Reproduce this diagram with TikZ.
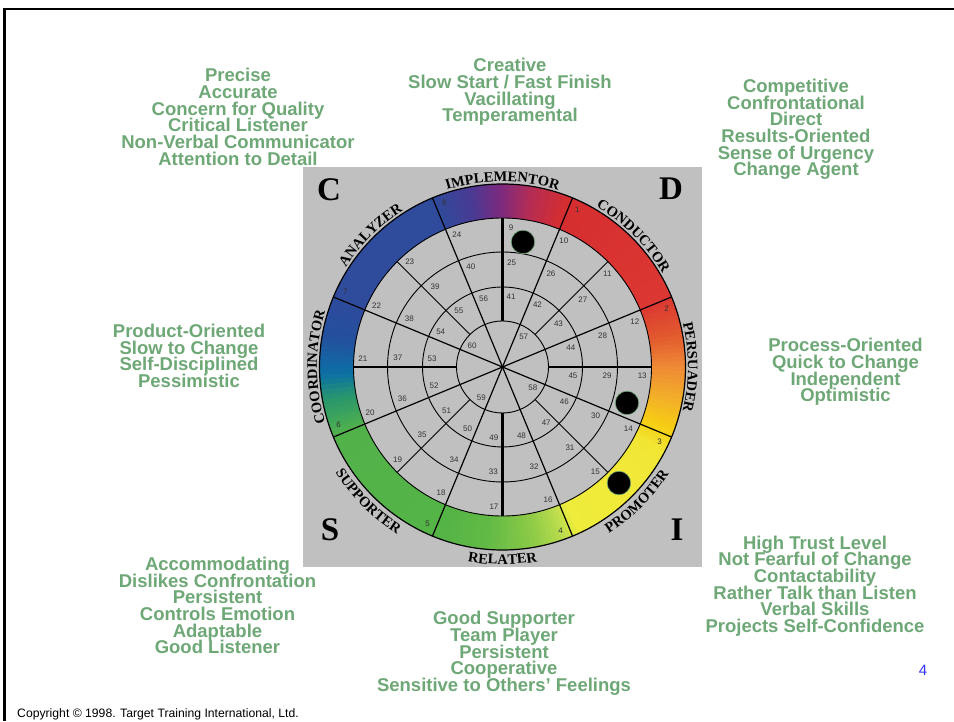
\documentclass[tikz,border=0pt]{standalone}
\usepackage{fontspec}
\setmainfont{Liberation Sans}
\newfontfamily\rolefamily{Liberation Serif}
\usetikzlibrary{decorations.text}

\definecolor{traitgreen}{RGB}{111,168,119}
\definecolor{panelgrey}{RGB}{192,192,192}
\definecolor{pagenum}{RGB}{51,51,255}
% colour stops of the wheel rim
\definecolor{ringA}{RGB}{46,75,156}
\definecolor{ringB}{RGB}{74,58,147}
\definecolor{ringC}{RGB}{125,42,126}
\definecolor{ringD}{RGB}{181,44,84}
\definecolor{ringE}{RGB}{214,46,48}
\definecolor{ringF}{RGB}{220,55,50}
\definecolor{ringG}{RGB}{226,90,46}
\definecolor{ringH}{RGB}{238,136,54}
\definecolor{ringI}{RGB}{243,178,40}
\definecolor{ringJ}{RGB}{246,207,18}
\definecolor{ringK}{RGB}{242,230,53}
\definecolor{ringL}{RGB}{239,236,59}
\definecolor{ringM}{RGB}{190,222,78}
\definecolor{ringN}{RGB}{142,203,71}
\definecolor{ringO}{RGB}{98,186,69}
\definecolor{ringP}{RGB}{85,180,70}
\definecolor{ringQ}{RGB}{82,178,74}
\definecolor{ringR}{RGB}{40,150,110}
\definecolor{ringS}{RGB}{12,112,165}
\definecolor{ringT}{RGB}{35,80,158}

\newcommand\rolefont{\rolefamily\bfseries\fontsize{14.5}{14.5}\selectfont}
% tight, even line spacing for the trait lists
\newcommand\traitfont{\bfseries\fontsize{18.5}{16.7}\selectfont\lineskiplimit=-20pt\relax}

\tikzset{
  trait/.style={align=center, text=traitgreen, inner sep=0pt, font=\traitfont},
  num/.style={inner sep=0pt, text=black!80, font=\fontsize{8}{8}\selectfont},
  corner/.style={inner sep=0pt, font=\rolefamily\bfseries\fontsize{33}{33}\selectfont},
  marker/.style={circle, fill=black, draw=traitgreen, line width=0.6pt,
    minimum size=23.5pt, inner sep=0pt},
  spoke/.style={line width=1.2pt},
  axis/.style={line width=2.2pt},
  ring/.style={line width=0.9pt},
}

\begin{document}
\begin{tikzpicture}[x=1pt,y=1pt]
\useasboundingbox (0,0) rectangle (954,721);
\fill[white] (0,0) rectangle (954,721);

% slide frame
\draw[line width=2.5pt] (4.5,0) -- (4.5,712) -- (954,712);

% grey panel behind the wheel
\fill[panelgrey] (303,154) rectangle (702,554);
\coordinate (c) at (502.5,354);

\begin{scope}[shift={(c)}]
  % coloured rim, filled in thin wedges
  \foreach \a/\b/\ca/\cb in {157.5/112.5/ringA/ringA, 112.5/100/ringA/ringB,
      100/90/ringB/ringC, 90/80/ringC/ringD, 80/68/ringD/ringE, 68/22.5/ringE/ringF,
      22.5/10/ringF/ringG, 10/0/ringG/ringH, 0/-12/ringH/ringI, -12/-21/ringI/ringJ,
      -21/-28/ringJ/ringK, -28/-66/ringK/ringL, -66/-70/ringL/ringM, -70/-80/ringM/ringN,
      -80/-95/ringN/ringO, -95/-110/ringO/ringP, -110/-157.5/ringP/ringQ,
      -157.5/-170/ringQ/ringR, -170/-178/ringR/ringS, -178/-190/ringS/ringT,
      -190/-202.5/ringT/ringA}{
    \pgfmathtruncatemacro\n{max(1,round((\a-\b)/1.5))}
    \foreach \i in {1,...,\n}{
      \pgfmathsetmacro\s{\a-(\i-1)*(\a-\b)/\n+0.4}
      \pgfmathsetmacro\e{\a-\i*(\a-\b)/\n}
      \pgfmathsetmacro\p{100*(\i-0.5)/\n}
      \fill[\cb!\p!\ca] (\s:183) arc[start angle=\s, end angle=\e, radius=183]
        -- (\e:149) arc[start angle=\e, end angle=\s, radius=149] -- cycle;
    }
  }

  % rings and spokes
  \foreach \r in {46,80,115,149}
    \draw[ring] (0,0) circle[radius=\r];
  \draw[spoke] (0,0) circle[radius=183];
  \foreach \t in {22.5,67.5,...,337.5}
    \draw[spoke] (0,0) -- (\t:183);
  \foreach \t in {0,90,180,270}
    \draw[axis] (\t:46) -- (\t:149);
  \foreach \t in {45,135,225,315}
    \draw[ring] (\t:46) -- (\t:149);

  % cell numbers
  \foreach \k in {1,...,8}
    \node[num] (n\k) at ({67.5-45*(\k-1)-3}:174) {\k};
  \foreach \k in {9,...,24}
    \node[num] (n\k) at ({90-22.5*(\k-9)-3.5}:140) {\k};
  \foreach \k in {25,...,40}
    \node[num] (n\k) at ({90-22.5*(\k-25)-5}:105) {\k};
  \foreach \k in {41,...,56}
    \node[num] (n\k) at ({90-22.5*(\k-41)-7}:71) {\k};
  \foreach \k in {57,...,60}
    \node[num] (n\k) at ({55-90*(\k-57)}:37) {\k};

  % role names round the rim
  \foreach \ang/\role in {90/IMPLEMENTOR, 45/CONDUCTOR, 0/PERSUADER,
      135/ANALYZER, 180/COORDINATOR}
    \path[decorate, decoration={text along path, text align=center,
        text/.expanded={|\noexpand\rolefont|\role}}]
      (\ang+40:185.5) arc[start angle=\ang+40, end angle=\ang-40, radius=185.5];
  \foreach \ang/\role in {-45/PROMOTER, -90/RELATER, -135/SUPPORTER}
    \path[decorate, decoration={text along path, text align=center,
        text/.expanded={|\noexpand\rolefont|\role}}]
      (\ang-40:197.5) arc[start angle=\ang-40, end angle=\ang+40, radius=197.5];

  % plotted positions
  \node[marker] (dot1) at (80.7:126.7) {};
  \node[marker] (dot2) at (-16.1:129.6) {};
  \node[marker] (dot3) at (-44.9:164.4) {};
\end{scope}

% quadrant letters
\node[corner] (qC) at (329,531) {C};
\node[corner] (qD) at (671,532) {D};
\node[corner] (qS) at (330,191) {S};
\node[corner] (qI) at (677,191) {I};

% trait lists
\node[trait] (tC) at (238,604) {Precise\\Accurate\\Concern for Quality\\Critical Listener\\Non-Verbal Communicator\\Attention to Detail};
\node[trait] (tCD) at (510,629) {Creative\\Slow Start / Fast Finish\\Vacillating\\Temperamental};
\node[trait] (tD) at (796,591.5) {Competitive\\Confrontational\\Direct\\Results-Oriented\\Sense of Urgency\\Change Agent};
\node[trait] (tCS) at (189,365) {Product-Oriented\\Slow to Change\\Self-Disciplined\\Pessimistic};
\node[trait] (tDI) at (845.5,349) {Process-Oriented\\Quick to Change\\Independent\\Optimistic};
\node[trait] (tS) at (217.5,115.5) {Accommodating\\Dislikes Confrontation\\Persistent\\Controls Emotion\\Adaptable\\Good Listener};
\node[trait] (tSI) at (504,67.5) {Good Supporter\\Team Player\\Persistent\\Cooperative\\Sensitive to Others' Feelings};
\node[trait] (tI) at (815,135) {High Trust Level\\Not Fearful of Change\\Contactability\\Rather Talk than Listen\\Verbal Skills\\Projects Self-Confidence};

% footer
\node[text=pagenum, font=\fontsize{15}{15}\selectfont] (page) at (923,51) {4};
\node[anchor=base west, inner sep=0pt, font=\fontsize{12.2}{12.2}\selectfont] (copy) at (17,3.7) {Copyright \textcopyright{} 1998. Target Training International, Ltd.};
\end{tikzpicture}
\end{document}
